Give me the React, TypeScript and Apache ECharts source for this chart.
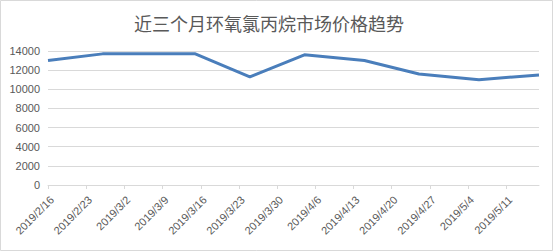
import React, { useEffect, useRef } from "react";
import * as echarts from "echarts";

const chartTitle = "近三个月环氧氯丙烷市场价格趋势";
const startDate = "2019/2/16";
const endDate = "2019/5/17";
const tickDates = [
  "2019/2/16", "2019/2/23", "2019/3/2", "2019/3/9", "2019/3/16", "2019/3/23", "2019/3/30",
  "2019/4/6", "2019/4/13", "2019/4/20", "2019/4/27", "2019/5/4", "2019/5/11",
];
const pointDates = [
  "2019/2/16", "2019/2/26", "2019/3/6", "2019/3/15", "2019/3/25",
  "2019/4/4", "2019/4/15", "2019/4/25", "2019/5/6", "2019/5/17",
];
const prices = [13000, 13700, 13700, 13700, 11300, 13600, 13000, 11600, 11000, 11500];
const yMin = 0;
const yMax = 14000;
const yStep = 2000;

function toUTC(s: string) {
  const [y, m, d] = s.split("/").map(Number);
  return Date.UTC(y, m - 1, d);
}
function dayOffset(s: string) {
  return Math.round((toUTC(s) - toUTC(startDate)) / 86400000);
}

export default function App() {
  const ref = useRef<HTMLDivElement>(null);
  useEffect(() => {
    if (!ref.current) return;
    const chart = echarts.init(ref.current, undefined, { renderer: "svg" });
    const tickOffsets = tickDates.map(dayOffset);
    const labelMap: Record<number, string> = {};
    tickDates.forEach((d) => (labelMap[dayOffset(d)] = d));
    const gray = "#595959";
    const lineGray = "#d9d9d9";
    const font = "'Liberation Sans', Arial, sans-serif";
    chart.setOption({
      animation: false,
      backgroundColor: "#ffffff",
      title: {
        text: chartTitle,
        left: 129,
        top: 9,
        textStyle: {
          fontSize: 18,
          fontWeight: "normal",
          color: gray,
          fontFamily: "'Noto Sans CJK SC', sans-serif",
        },
      },
      graphic: [
        {
          type: "rect",
          shape: { x: 0.5, y: 0.5, width: 552, height: 250 },
          style: { fill: "none", stroke: lineGray, lineWidth: 1 },
          silent: true,
        },
      ],
      grid: {
        left: 48,
        right: 17,
        top: 51,
        bottom: 67,
        outerBoundsMode: "none",
      },
      xAxis: {
        type: "value",
        min: 0,
        max: dayOffset(endDate),
        interval: 7,
        axisLine: { show: true, lineStyle: { color: lineGray, width: 1 } },
        axisTick: {
          show: true,
          length: 4,
          customValues: tickOffsets,
          lineStyle: { color: lineGray },
        },
        splitLine: { show: false },
        axisLabel: {
          customValues: tickOffsets,
          rotate: 45,
          margin: 9,
          align: "right",
          verticalAlign: "top",
          fontSize: 11,
          color: gray,
          fontFamily: font,
          formatter: (v: number) => labelMap[v] ?? "",
        },
      },
      yAxis: {
        type: "value",
        min: yMin,
        max: yMax,
        interval: yStep,
        axisLine: { show: false },
        axisTick: { show: false },
        splitLine: { lineStyle: { color: lineGray, width: 1 } },
        axisLabel: {
          fontSize: 11,
          color: gray,
          fontFamily: font,
          margin: 8,
          formatter: (v: number) => String(v),
        },
      },
      series: [
        {
          type: "line",
          data: pointDates.map((d, i) => [dayOffset(d), prices[i]]),
          showSymbol: false,
          lineStyle: { width: 3, color: "#4A7EBB" },
          itemStyle: { color: "#4A7EBB" },
        },
      ],
    });
    return () => chart.dispose();
  }, []);
  return (
    <div
      ref={ref}
      style={{ position: "fixed", left: 0, top: 0, width: 556, height: 252 }}
    />
  );
}
